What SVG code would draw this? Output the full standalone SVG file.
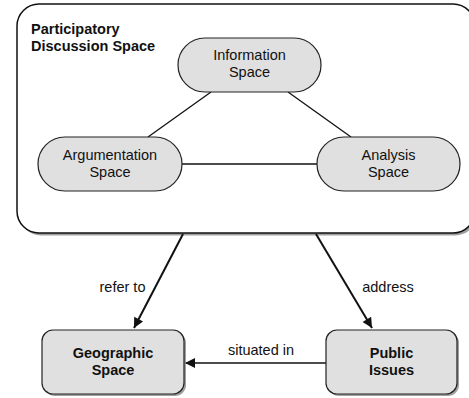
<svg xmlns="http://www.w3.org/2000/svg" width="469" height="398" viewBox="0 0 469 398">
<defs>
<style>
.shadow{fill:#888;opacity:0.8}
.node{fill:#e0e0e0;stroke:#222;stroke-width:1.2}
.cont{fill:#fff;stroke:#111;stroke-width:1.5}
text{font-family:"Liberation Sans",Arial,sans-serif;font-size:14.5px;fill:#111;text-anchor:middle}
.b{font-weight:bold}
.edge{stroke:#111;stroke-width:1.3;fill:none}
.arr{stroke:#111;stroke-width:2;fill:none}
</style>
<marker id="ah2" viewBox="0 0 10 10" refX="10" refY="5" markerWidth="14" markerHeight="10" markerUnits="userSpaceOnUse" orient="auto"><path d="M0,0L10,5L0,10z" fill="#111"/></marker>
</defs>
<g id="container">
<rect class="shadow" x="19" y="6.5" width="458" height="229" rx="22"/>
<rect class="cont" x="17" y="4" width="458" height="229" rx="22"/>
<text class="b" x="31" y="34" style="text-anchor:start">Participatory</text>
<text class="b" x="31" y="51" style="text-anchor:start">Discussion Space</text>
</g>
<g id="connectors">
<line class="edge" x1="211" y1="92" x2="148" y2="137"/>
<line class="edge" x1="288" y1="92" x2="351" y2="137"/>
<line class="edge" x1="182" y1="164" x2="317" y2="164"/>
<line class="arr" x1="183" y1="234" x2="134" y2="328" marker-end="url(#ah2)"/>
<line class="arr" x1="316" y1="234" x2="372" y2="328" marker-end="url(#ah2)"/>
<line class="edge" x1="326" y1="363" x2="185" y2="363" marker-end="url(#ah2)"/>
<text x="122.5" y="292">refer to</text>
<text x="388" y="292">address</text>
<text x="261" y="355">situated in</text>
</g>
<g id="information">
<rect class="node" x="178" y="38" width="143" height="54" rx="27"/>
<text x="249.5" y="60">Information</text>
<text x="249.5" y="77">Space</text>
</g>
<g id="argumentation">
<rect class="node" x="38" y="137" width="144" height="54" rx="27"/>
<text x="110" y="160">Argumentation</text>
<text x="110" y="177">Space</text>
</g>
<g id="analysis">
<rect class="node" x="317" y="137" width="143" height="54" rx="27"/>
<text x="388.5" y="160">Analysis</text>
<text x="388.5" y="177">Space</text>
</g>
<g id="geographic">
<rect class="shadow" x="44" y="332" width="142" height="64" rx="11"/>
<rect class="node" x="42" y="330" width="142" height="64" rx="11"/>
<text class="b" x="113" y="358">Geographic</text>
<text class="b" x="113" y="375">Space</text>
</g>
<g id="public">
<rect class="shadow" x="328" y="332" width="131" height="64" rx="11"/>
<rect class="node" x="326" y="330" width="131" height="64" rx="11"/>
<text class="b" x="391.5" y="358">Public</text>
<text class="b" x="391.5" y="375">Issues</text>
</g>
</svg>
